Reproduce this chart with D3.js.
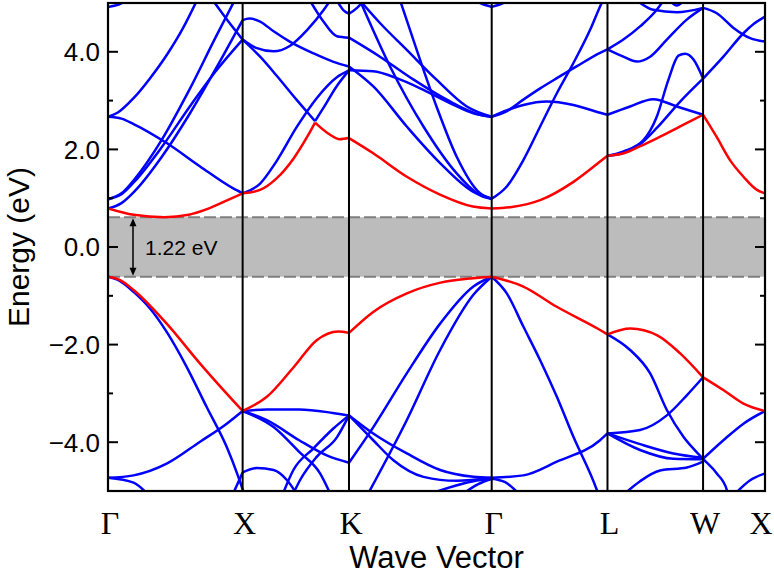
<!DOCTYPE html>
<html>
<head>
<meta charset="utf-8">
<script src="https://cdn.jsdelivr.net/npm/d3@7"></script>
<style>
  body { margin: 0; background: #fff; }
  svg { display: block; }
</style>
</head>
<body>
<div id="chart"></div>
<script>
// High symmetry points along the path (k in 2pi/a path length)
const kTicks = [0, 1.0, 1.79, 2.85, 3.71, 4.42, 4.88];
const kLabels = ["Γ", "X", "K", "Γ", "L", "W", "X"];
const eTicks = [-4, -2, 0, 2, 4];
const eMinor = [-3, -1, 1, 3];
const gapEdges = [-0.61, 0.61];
const gapText = "1.22 eV";

// Lowest conduction band and highest valence band (red), one array per segment
const redConduction = [
  [[0,0.79],[0.19,0.66],[0.42,0.61],[0.6,0.66],[0.73,0.77],[0.88,0.95],[1.0,1.10]],
  [[1.0,1.10],[1.13,1.17],[1.25,1.40],[1.38,1.82],[1.48,2.26],[1.538,2.55]],
  [[1.538,2.55],[1.65,2.30],[1.72,2.21],[1.79,2.24]],
  [[1.79,2.23],[1.97,1.92],[2.22,1.44],[2.47,1.07],[2.71,0.83],[2.85,0.79]],
  [[2.85,0.79],[3.0,0.82],[3.21,0.96],[3.46,1.34],[3.655,1.75],[3.71,1.87]],
  [[3.71,1.87],[3.83,1.92],[3.95,2.06],[4.08,2.23],[4.25,2.47],[4.42,2.71]],
  [[4.42,2.71],[4.52,2.26],[4.62,1.78],[4.72,1.44],[4.82,1.17],[4.88,1.10]]
];
const redValence = [
  [[0,-0.61],[0.09,-0.68],[0.19,-0.88],[0.436,-1.57],[0.684,-2.39],[0.88,-3.0],[1.0,-3.36]],
  [[1.0,-3.36],[1.18,-3.07],[1.38,-2.46],[1.55,-1.91],[1.71,-1.73],[1.79,-1.76]],
  [[1.79,-1.76],[1.97,-1.33],[2.22,-0.95],[2.47,-0.73],[2.71,-0.64],[2.85,-0.61]],
  [[2.85,-0.61],[3.085,-0.81],[3.33,-1.22],[3.655,-1.70],[3.71,-1.79]],
  [[3.71,-1.79],[3.88,-1.67],[4.08,-1.81],[4.25,-2.18],[4.42,-2.67]],
  [[4.42,-2.67],[4.57,-2.93],[4.72,-3.21],[4.88,-3.36]]
];

// Other bands (blue), grouped by path segment
const blueGX = [
  [[0,2.67],[0.1,2.63],[0.19,2.52],[0.436,2.13],[0.684,1.65],[0.93,1.20],[1.0,1.10]],
  [[0,2.67],[0.07,2.75],[0.19,3.05],[0.31,3.45],[0.44,3.95],[0.56,4.5],[0.66,5.05]],
  [[0,0.98],[0.1,1.08],[0.2,1.35],[0.4,2.05],[0.6,2.85],[0.8,3.6],[1.0,4.25]],
  [[0,0.79],[0.1,0.9],[0.2,1.15],[0.4,1.85],[0.6,2.7],[0.8,3.65],[1.0,4.65]],
  [[0,0.98],[0.1,1.1],[0.2,1.4],[0.4,2.2],[0.6,3.2],[0.8,4.3],[0.94,5.05]],
  [[0.78,5.05],[0.9,4.6],[1.0,4.25]],
  [[0,4.92],[0.08,4.97],[0.14,5.05]],
  [[0,-0.61],[0.09,-0.70],[0.19,-0.92],[0.312,-1.26],[0.436,-1.74],[0.585,-2.46],[0.733,-3.28],[0.882,-4.10],[0.96,-4.65],[1.01,-5.05]],
  [[0,-4.73],[0.19,-4.68],[0.436,-4.44],[0.684,-3.99],[0.882,-3.62],[1.0,-3.36]],
  [[0,-4.73],[0.19,-4.83],[0.29,-5.05]],
  [[0.93,-5.05],[1.0,-4.62]]
];
const blueXK = [
  [[1.0,1.10],[1.13,1.30],[1.25,1.75],[1.40,2.45],[1.55,3.05],[1.70,3.48],[1.79,3.62]],
  [[1.0,4.25],[1.13,3.90],[1.25,3.52],[1.40,3.02],[1.50,2.70],[1.538,2.58]],
  [[1.538,2.58],[1.60,2.85],[1.70,3.30],[1.79,3.62]],
  [[1.0,4.65],[1.05,4.68],[1.13,4.62],[1.23,4.42],[1.35,4.21],[1.525,3.97],[1.67,3.80],[1.79,3.70]],
  [[1.0,4.25],[1.10,4.08],[1.23,4.01],[1.35,4.12],[1.48,4.45],[1.60,4.85],[1.65,5.05]],
  [[1.50,5.05],[1.60,4.62],[1.70,4.32],[1.79,4.29]],
  [[1.70,5.05],[1.75,4.85],[1.79,4.78]],
  [[1.0,-3.36],[1.18,-3.33],[1.42,-3.33],[1.67,-3.40],[1.79,-3.45]],
  [[1.0,-3.36],[1.18,-3.55],[1.42,-3.96],[1.625,-4.27],[1.79,-4.42]],
  [[1.0,-3.36],[1.23,-3.69],[1.42,-4.20],[1.575,-4.64],[1.65,-5.05]],
  [[1.30,-5.05],[1.377,-4.57],[1.525,-4.13],[1.674,-3.72],[1.79,-3.45]],
  [[1.377,-5.05],[1.426,-4.78],[1.55,-4.30],[1.70,-3.90],[1.79,-3.45]],
  [[1.0,-4.62],[1.105,-4.53],[1.23,-4.57],[1.33,-4.78],[1.40,-5.05]]
];
const blueKG = [
  [[1.79,3.62],[1.97,3.60],[2.145,3.46],[2.343,3.22],[2.54,2.95],[2.714,2.74],[2.85,2.67]],
  [[1.79,4.29],[2.02,3.90],[2.27,3.43],[2.516,3.02],[2.764,2.71],[2.85,2.67]],
  [[1.872,5.05],[2.02,4.59],[2.219,4.04],[2.44,3.43],[2.665,2.88],[2.85,2.67]],
  [[1.79,3.70],[1.971,3.29],[2.219,2.47],[2.467,1.72],[2.714,1.13],[2.85,0.99]],
  [[2.17,5.05],[2.293,4.04],[2.44,2.88],[2.59,1.85],[2.764,1.10],[2.85,0.99]],
  [[1.872,5.05],[2.095,3.70],[2.343,2.47],[2.59,1.51],[2.788,1.03],[2.85,0.99]],
  [[1.79,4.78],[1.85,4.9],[1.90,5.05]],
  [[2.72,5.05],[2.79,4.97],[2.85,4.92]],
  [[1.79,-3.45],[1.97,-3.82],[2.22,-4.23],[2.467,-4.57],[2.714,-4.71],[2.85,-4.73]],
  [[1.79,-3.45],[1.97,-3.96],[2.12,-4.37],[2.343,-4.71],[2.59,-4.79],[2.85,-4.73]],
  [[1.79,-4.42],[1.971,-3.69],[2.219,-2.59],[2.467,-1.57],[2.714,-0.81],[2.85,-0.61]],
  [[1.933,-5.05],[2.219,-3.55],[2.467,-2.11],[2.714,-0.98],[2.85,-0.61]],
  [[2.40,-5.05],[2.714,-4.80],[2.85,-4.75]],
  [[2.64,-5.05],[2.75,-4.86],[2.85,-4.75]]
];
const blueGL = [
  [[2.85,0.99],[2.962,1.24],[3.085,1.78],[3.21,2.47],[3.334,3.15],[3.457,3.77],[3.581,4.45],[3.655,4.93],[3.675,5.05]],
  [[2.85,2.67],[2.96,2.78],[3.085,3.02],[3.21,3.25],[3.334,3.46],[3.48,3.70],[3.655,3.98],[3.71,4.05]],
  [[2.85,2.67],[2.96,2.80],[3.085,2.91],[3.26,2.98],[3.457,2.91],[3.655,2.75],[3.71,2.71]],
  [[2.85,4.92],[2.91,4.97],[2.98,5.05]],
  [[2.85,-0.61],[2.962,-0.95],[3.085,-1.63],[3.21,-2.32],[3.334,-3.07],[3.457,-3.89],[3.631,-4.98],[3.64,-5.05]],
  [[2.85,-4.73],[3.085,-4.68],[3.334,-4.40],[3.655,-3.96],[3.71,-3.82]],
  [[2.85,-4.75],[2.95,-4.82],[3.05,-5.05]]
];
const blueLW = [
  [[3.71,1.87],[3.83,1.93],[3.95,2.10],[4.08,2.45],[4.25,2.98],[4.42,3.45]],
  [[3.71,1.87],[3.83,1.96],[3.977,2.19],[4.076,2.67],[4.163,3.43],[4.237,3.92],[4.287,3.96],[4.349,3.84],[4.42,3.45]],
  [[3.71,2.71],[3.878,2.88],[4.05,3.03],[4.225,2.88],[4.42,2.71]],
  [[3.71,4.05],[3.828,3.90],[3.928,3.80],[4.027,3.90],[4.151,4.25],[4.299,4.66],[4.42,4.90]],
  [[3.71,4.05],[3.828,4.25],[3.952,4.52],[4.076,4.86],[4.126,5.05]],
  [[3.928,5.05],[4.05,4.86],[4.225,4.81],[4.42,4.90]],
  [[4.17,5.05],[4.225,4.95],[4.28,5.05]],
  [[3.71,-1.79],[3.878,-2.11],[4.027,-2.59],[4.151,-3.34],[4.274,-3.89],[4.42,-4.34],[4.522,-4.64],[4.597,-4.98],[4.60,-5.05]],
  [[3.71,-3.82],[3.952,-3.75],[4.151,-3.45],[4.299,-3.04],[4.42,-2.67]],
  [[3.71,-3.82],[3.952,-4.04],[4.2,-4.23],[4.42,-4.32]],
  [[3.71,-3.82],[3.952,-4.16],[4.2,-4.34],[4.42,-4.35]],
  [[3.84,-5.05],[3.952,-4.80],[4.10,-4.58],[4.30,-4.52],[4.42,-4.40]]
];
const blueWX = [
  [[4.42,3.45],[4.571,3.90],[4.72,4.38],[4.80,4.58],[4.88,4.72]],
  [[4.42,4.90],[4.522,4.79],[4.646,4.49],[4.77,4.28],[4.88,4.21]],
  [[4.42,-4.34],[4.571,-3.96],[4.72,-3.62],[4.88,-3.36]],
  [[4.66,-5.05],[4.77,-4.78],[4.88,-4.64]]
];

// Layout
const w = 774;
const h = 577;
const pLeft = 108, pRight = 765, pTop = 3, pBottom = 491;

const xScale = d3.scaleLinear().domain([0, 4.88]).range([pLeft, pRight]);
const yScale = d3.scaleLinear().domain([-5, 5]).range([pBottom, pTop]);

const svg = d3.select("#chart")
  .append("svg")
  .attr("width", w)
  .attr("height", h);

svg.append("defs").append("clipPath")
  .attr("id", "plot-clip")
  .append("rect")
  .attr("x", pLeft).attr("y", pTop)
  .attr("width", pRight - pLeft).attr("height", pBottom - pTop);

// Band gap shading
svg.append("rect")
  .attr("x", pLeft)
  .attr("y", yScale(gapEdges[1]))
  .attr("width", pRight - pLeft)
  .attr("height", yScale(gapEdges[0]) - yScale(gapEdges[1]))
  .attr("fill", "#bcbcbc");

svg.selectAll("line.gap")
  .data(gapEdges)
  .enter()
  .append("line")
  .attr("class", "gap")
  .attr("x1", pLeft).attr("x2", pRight)
  .attr("y1", d => yScale(d)).attr("y2", d => yScale(d))
  .attr("stroke", "#7f7f7f")
  .attr("stroke-width", 2)
  .attr("stroke-dasharray", "12,4");

// Bands
const bandLine = d3.line()
  .x(d => xScale(d[0]))
  .y(d => yScale(d[1]))
  .curve(d3.curveMonotoneX);

const plot = svg.append("g").attr("clip-path", "url(#plot-clip)");

const blueBands = [].concat(blueGX, blueXK, blueKG, blueGL, blueLW, blueWX);
const redBands = [].concat(redConduction, redValence);

plot.selectAll("path.blue")
  .data(blueBands)
  .enter()
  .append("path")
  .attr("class", "blue")
  .attr("d", d => bandLine(d3.sort(d, p => p[0])))
  .attr("fill", "none")
  .attr("stroke", "#0000ff")
  .attr("stroke-width", 2.5);

plot.selectAll("path.red")
  .data(redBands)
  .enter()
  .append("path")
  .attr("class", "red")
  .attr("d", d => bandLine(d3.sort(d, p => p[0])))
  .attr("fill", "none")
  .attr("stroke", "#ff0000")
  .attr("stroke-width", 2.5);

// Vertical lines at high symmetry points
svg.selectAll("line.kline")
  .data(kTicks.slice(1, -1))
  .enter()
  .append("line")
  .attr("class", "kline")
  .attr("x1", d => xScale(d)).attr("x2", d => xScale(d))
  .attr("y1", pTop).attr("y2", pBottom)
  .attr("stroke", "#000")
  .attr("stroke-width", 2);

// Frame
svg.append("rect")
  .attr("x", pLeft).attr("y", pTop)
  .attr("width", pRight - pLeft).attr("height", pBottom - pTop)
  .attr("fill", "none")
  .attr("stroke", "#000")
  .attr("stroke-width", 2.2);

// Inward ticks on left and right
const tickData = eTicks.map(v => ({v: v, len: 10})).concat(eMinor.map(v => ({v: v, len: 5})));
svg.selectAll("line.ltick")
  .data(tickData)
  .enter()
  .append("line")
  .attr("class", "ltick")
  .attr("x1", pLeft).attr("x2", d => pLeft + d.len)
  .attr("y1", d => yScale(d.v)).attr("y2", d => yScale(d.v))
  .attr("stroke", "#000").attr("stroke-width", 2);
svg.selectAll("line.rtick")
  .data(tickData)
  .enter()
  .append("line")
  .attr("class", "rtick")
  .attr("x1", pRight).attr("x2", d => pRight - d.len)
  .attr("y1", d => yScale(d.v)).attr("y2", d => yScale(d.v))
  .attr("stroke", "#000").attr("stroke-width", 2);

// Tick labels
svg.selectAll("text.ylab")
  .data(eTicks)
  .enter()
  .append("text")
  .attr("class", "ylab")
  .attr("x", pLeft - 8)
  .attr("y", d => yScale(d))
  .attr("dy", "0.36em")
  .attr("text-anchor", "end")
  .style("font-family", "'Liberation Sans', Arial, sans-serif")
  .style("font-size", "26px")
  .text(d => d3.format(".1f")(d));

svg.selectAll("text.klab")
  .data(kTicks)
  .enter()
  .append("text")
  .attr("class", "klab")
  .attr("x", (d, i) => i === kTicks.length - 1 ? xScale(d) - 4 : xScale(d) + 2)
  .attr("y", 534)
  .attr("text-anchor", "middle")
  .style("font-family", "'Liberation Serif', 'Times New Roman', serif")
  .style("font-size", "32px")
  .text((d, i) => kLabels[i]);

// Axis titles
svg.append("text")
  .attr("x", (pLeft + pRight) / 2)
  .attr("y", 568)
  .attr("text-anchor", "middle")
  .style("font-family", "'Liberation Sans', Arial, sans-serif")
  .style("font-size", "31px")
  .text("Wave Vector");

svg.append("text")
  .attr("transform", "translate(29," + yScale(0) + ") rotate(-90)")
  .attr("text-anchor", "middle")
  .style("font-family", "'Liberation Sans', Arial, sans-serif")
  .style("font-size", "30px")
  .text("Energy (eV)");

// Gap arrow and label
const ax = 133;
const yTop = yScale(gapEdges[1]) + 1;
const yBot = yScale(gapEdges[0]) - 1;
svg.append("line")
  .attr("x1", ax).attr("x2", ax)
  .attr("y1", yTop + 5).attr("y2", yBot - 5)
  .attr("stroke", "#000").attr("stroke-width", 1.5);
svg.append("path")
  .attr("d", "M" + ax + "," + yTop + "l-3.5,8h7z")
  .attr("fill", "#000");
svg.append("path")
  .attr("d", "M" + ax + "," + yBot + "l-3.5,-8h7z")
  .attr("fill", "#000");

svg.append("text")
  .attr("x", 145)
  .attr("y", yScale(0))
  .attr("dy", "0.36em")
  .style("font-family", "'Liberation Sans', Arial, sans-serif")
  .style("font-size", "21px")
  .text(gapText);
</script>
</body>
</html>
